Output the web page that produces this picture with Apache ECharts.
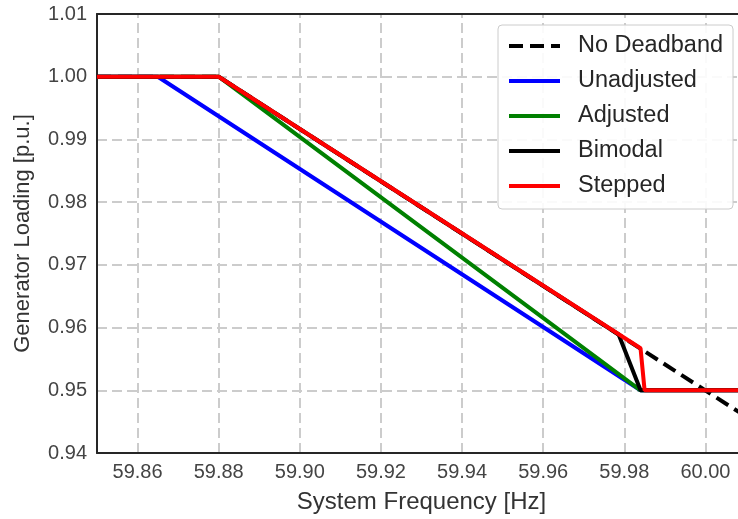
<!DOCTYPE html>
<html>
<head>
<meta charset="utf-8">
<script src="https://cdn.jsdelivr.net/npm/echarts@6/dist/echarts.min.js"></script>
<style>html,body{margin:0;padding:0;background:#fff;}#c{width:738px;height:519px;}</style>
</head>
<body>
<div id="c"></div>
<script>
const xTicks = [59.86, 59.88, 59.90, 59.92, 59.94, 59.96, 59.98, 60.00];
const yTicks = [0.94, 0.95, 0.96, 0.97, 0.98, 0.99, 1.00, 1.01];

const noDeadbandX = [59.85, 59.88, 60.01];
const noDeadbandY = [1.00, 1.00, 0.9458];
const unadjustedX = [59.85, 59.865, 59.984, 60.01];
const unadjustedY = [1.00, 1.00, 0.95, 0.95];
const adjustedX = [59.85, 59.88, 59.984, 60.01];
const adjustedY = [1.00, 1.00, 0.95, 0.95];
const bimodalX = [59.85, 59.88, 59.9786, 59.984, 60.01];
const bimodalY = [1.00, 1.00, 0.9589, 0.95, 0.95];
const steppedX = [59.85, 59.88, 59.984, 59.985, 60.01];
const steppedY = [1.00, 1.00, 0.9567, 0.95, 0.95];

const seriesNames = ['No Deadband', 'Unadjusted', 'Adjusted', 'Bimodal', 'Stepped'];
const seriesColors = ['#000000', '#0000ff', '#008000', '#000000', '#ff0000'];

function pairs(xs, ys) { return xs.map((x, i) => [x, ys[i]]); }
const dataSets = [
  pairs(noDeadbandX, noDeadbandY),
  pairs(unadjustedX, unadjustedY),
  pairs(adjustedX, adjustedY),
  pairs(bimodalX, bimodalY),
  pairs(steppedX, steppedY)
];

const font = "'Liberation Sans', Arial, sans-serif";
const gridColor = '#cccccc';
const chart = echarts.init(document.getElementById('c'), null, {renderer: 'canvas'});

const series = seriesNames.map((name, i) => ({
  name: name,
  type: 'line',
  data: dataSets[i],
  symbol: 'none',
  showSymbol: false,
  z: 3 + i,
  lineStyle: {
    color: seriesColors[i],
    width: 4,
    type: i === 0 ? [14, 7] : 'solid'
  },
  itemStyle: {color: seriesColors[i]}
}));

// vertical grid lines at tick values
series.push({
  type: 'line',
  data: [],
  silent: true,
  z: 0,
  markLine: {
    silent: true,
    symbol: 'none',
    z: 0,
    label: {show: false},
    lineStyle: {color: gridColor, width: 2, type: [10, 5]},
    data: xTicks.map(v => ({xAxis: v}))
  }
});

chart.setOption({
  animation: false,
  backgroundColor: '#ffffff',
  grid: {
    left: 97, top: 14, width: 649, height: 439,
    show: false,
    containLabel: false,
    outerBoundsMode: 'none'
  },
  legend: {
    orient: 'vertical',
    left: 498, top: 25,
    data: seriesNames,
    itemWidth: 51, itemHeight: 14, itemGap: 11,
    padding: [9, 10, 11, 9],
    backgroundColor: 'rgba(255,255,255,0.9)',
    borderColor: '#cccccc', borderWidth: 1, borderRadius: 4,
    textStyle: {fontFamily: font, fontSize: 23.5, color: '#262626', lineHeight: 23, padding: [0, 0, 0, 13]},
    lineStyle: {width: 4},
    itemStyle: {opacity: 0}
  },
  xAxis: [{
    type: 'value',
    min: 59.85, max: 60.01,
    name: 'System Frequency [Hz]',
    nameLocation: 'middle', nameGap: 37,
    nameTextStyle: {fontFamily: font, fontSize: 24, color: '#333333'},
    axisLine: {show: true, onZero: false, lineStyle: {color: '#262626', width: 2}},
    axisTick: {show: false, customValues: xTicks},
    axisLabel: {customValues: xTicks, fontFamily: font, fontSize: 20, color: '#444444', margin: 9,
      formatter: v => v.toFixed(2)},
    splitLine: {show: false}
  }, {
    type: 'value',
    position: 'top',
    min: 59.85, max: 60.01,
    axisLine: {show: true, onZero: false, lineStyle: {color: '#262626', width: 2}},
    axisTick: {show: false},
    axisLabel: {show: false},
    splitLine: {show: false}
  }],
  yAxis: {
    type: 'value',
    min: 0.94, max: 1.01, interval: 0.01,
    name: 'Generator Loading [p.u.]',
    nameLocation: 'middle', nameGap: 63,
    nameTextStyle: {fontFamily: font, fontSize: 22, color: '#333333'},
    axisLine: {show: true, onZero: false, lineStyle: {color: '#262626', width: 2}},
    axisTick: {show: false},
    axisLabel: {fontFamily: font, fontSize: 20, color: '#444444', margin: 10,
      formatter: v => v.toFixed(2)},
    splitLine: {show: true, lineStyle: {color: gridColor, width: 2, type: [10, 5]}}
  },
  series: series
});
</script>
</body>
</html>
